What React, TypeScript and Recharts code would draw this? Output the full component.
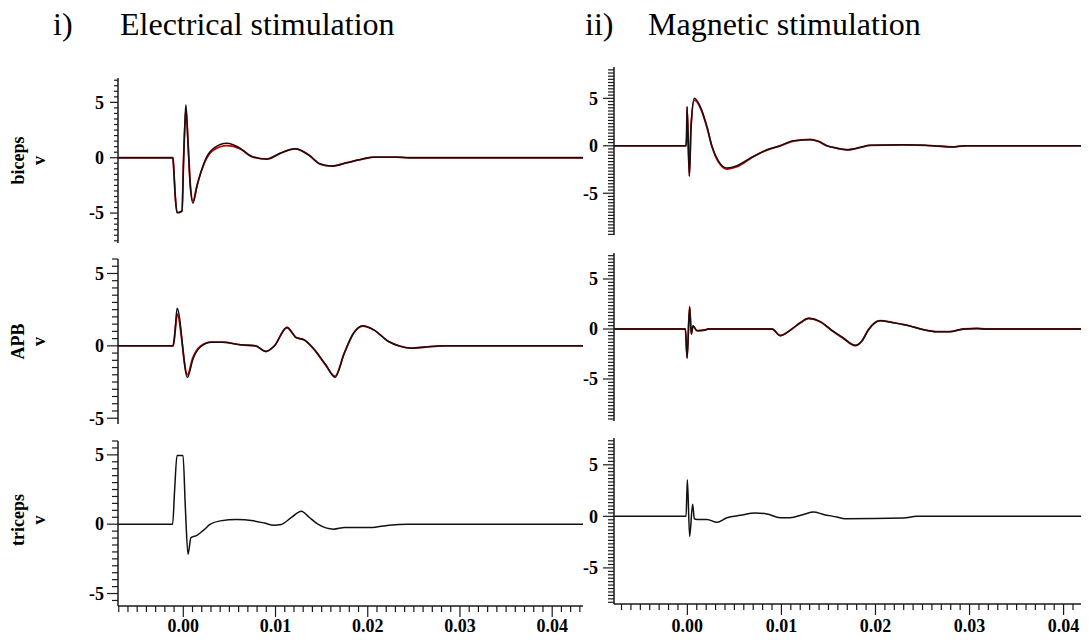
import { Line, LineChart, XAxis, YAxis } from 'recharts'

// time in seconds, amplitude in volts
const bicepsElecTime = [-0.00708, -0.00112, -0.00105, -0.00087, -0.00068, -0.00051, -0.00014, 0.00003, 0.00022, 0.00029, 0.00051, 0.00076, 0.00105, 0.00148, 0.00184, 0.00238, 0.00328, 0.00473, 0.00618, 0.00744, 0.00907, 0.0105, 0.01213, 0.0136, 0.01484, 0.01611, 0.01774, 0.01954, 0.0206, 0.0232, 0.0245, 0.04334]
const bicepsElecBlack = [0, 0, -0.8, -3.5, -4.95, -4.95, -4.8, -0.2, 4.0, 4.76, 1.3, -2.6, -4.1, -2.6, -1.5, -0.2, 0.85, 1.3, 0.85, 0.1, -0.12, 0.4, 0.8, 0.25, -0.57, -0.75, -0.45, -0.1, 0.05, 0.05, 0, 0]
const bicepsElecRed = [0, 0, -0.8, -3.5, -4.95, -4.95, -4.8, -0.2, 3.6, 4.3, 1.5, -2.4, -3.9, -2.5, -1.5, -0.3, 0.7, 1.1, 0.8, 0.1, -0.12, 0.4, 0.8, 0.25, -0.57, -0.75, -0.45, -0.1, 0.05, 0.05, 0, 0]

const apbElecTime = [-0.00708, -0.00112, -0.00098, -0.00085, -0.00067, 0.00045, 0.00102, 0.00182, 0.00302, 0.00422, 0.00623, 0.00783, 0.00895, 0.00984, 0.01124, 0.01224, 0.01312, 0.01425, 0.01545, 0.01645, 0.01746, 0.01845, 0.01946, 0.02066, 0.02226, 0.02347, 0.02467, 0.02627, 0.02828, 0.04334]
const apbElecBlack = [0, 0, 0.5, 1.4, 2.6, -2.18, -0.97, -0.1, 0.25, 0.25, 0.07, 0, -0.39, -0.03, 1.29, 0.57, 0.41, -0.28, -1.31, -2.18, -0.5, 0.87, 1.38, 1.1, 0.3, -0.02, -0.16, -0.08, 0, 0]
const apbElecRed = [0, 0, 0.4, 1.2, 2.2, -2.0, -0.85, -0.05, 0.25, 0.25, 0.07, 0, -0.39, -0.03, 1.25, 0.57, 0.41, -0.3, -1.35, -2.1, -0.5, 0.85, 1.36, 1.1, 0.3, -0.02, -0.16, -0.08, 0, 0]

const tricepsElecTime = [-0.00708, -0.00116, -0.00094, -0.00068, -0.00003, 0.00022, 0.00051, 0.00083, 0.00148, 0.0022, 0.00293, 0.004, 0.0058, 0.0076, 0.0088, 0.0098, 0.0106, 0.0118, 0.0128, 0.0136, 0.0146, 0.0163, 0.0175, 0.0203, 0.0223, 0.0243, 0.04334]
const tricepsElecBlack = [0, 0, 2.46, 4.95, 4.95, 1.25, -2.17, -0.97, -0.8, -0.43, 0, 0.24, 0.34, 0.24, 0.08, -0.07, -0.02, 0.53, 0.94, 0.53, 0, -0.36, -0.24, -0.24, -0.07, 0, 0]

const bicepsMagTime = [-0.0078, -0.00014, -0.00008, -0.00003, 0.00021, 0.00039, 0.00074, 0.00138, 0.00209, 0.00262, 0.00333, 0.00421, 0.00528, 0.00669, 0.00846, 0.00987, 0.01128, 0.01306, 0.01394, 0.01483, 0.01589, 0.01695, 0.01837, 0.01943, 0.023, 0.0253, 0.0262, 0.0282, 0.0295, 0.0427]
const bicepsMagBlack = [0, 0, 1.0, 4.1, -3.2, 2.0, 5.0, 4.1, 2.0, -0.07, -1.65, -2.35, -2.1, -1.3, -0.42, 0, 0.53, 0.63, 0.46, 0, -0.25, -0.42, -0.18, 0.05, 0.1, 0.05, 0, -0.12, 0, 0]
const bicepsMagRed = [0, 0, 1.0, 4.1, -3.2, 2.0, 4.8, 4.0, 1.9, -0.1, -1.75, -2.45, -2.2, -1.35, -0.45, 0, 0.5, 0.68, 0.46, 0, -0.25, -0.42, -0.18, 0.05, 0.1, 0.05, 0, -0.12, 0, 0]

const apbMagTime = [-0.0078, -0.00021, -0.00003, 0.00024, 0.00042, 0.0006, 0.00103, 0.0019, 0.0022, 0.009, 0.00987, 0.01111, 0.012, 0.01288, 0.01412, 0.01536, 0.01659, 0.01783, 0.01855, 0.01925, 0.02049, 0.0219, 0.02367, 0.02509, 0.02651, 0.02792, 0.02933, 0.03075, 0.0318, 0.0427]
const apbMagBlack = [0, 0, -2.9, 2.23, -0.5, 0.3, -0.17, -0.1, 0, 0, -0.67, 0, 0.63, 1.07, 0.73, -0.13, -0.9, -1.67, -1.23, -0.07, 0.83, 0.63, 0.3, -0.07, -0.27, -0.27, 0, 0.05, 0, 0]
const apbMagRed = [0, 0, -2.9, 2.23, -0.5, 0.3, -0.17, -0.1, 0, 0, -0.65, 0, 0.6, 1.05, 0.73, -0.15, -0.95, -1.62, -1.2, -0.07, 0.83, 0.63, 0.3, -0.07, -0.27, -0.27, 0, 0.05, 0, 0]

const tricepsMagTime = [-0.0078, -0.00014, 0, 0.00024, 0.00056, 0.00074, 0.00103, 0.00209, 0.00315, 0.00421, 0.00563, 0.00722, 0.00846, 0.00987, 0.01093, 0.01235, 0.01341, 0.01447, 0.01589, 0.01677, 0.02296, 0.02438, 0.0427]
const tricepsMagBlack = [0, 0, 3.56, -1.94, 1.17, -0.23, -0.3, -0.3, -0.58, -0.13, 0.1, 0.32, 0.23, -0.13, -0.13, 0.19, 0.42, 0.19, -0.06, -0.23, -0.16, 0, 0]

const xMajorTicks = [0, 0.01, 0.02, 0.03, 0.04]
const yMajorTicks = [-5, 0, 5]

const FONT = '"Liberation Serif", "Times New Roman", serif'
const AXIS = '#1a1a1a'
const PAD = 14

function steps(lo: number, hi: number, step: number) {
  const out: number[] = []
  for (let k = Math.ceil(lo / step - 1e-9); k * step <= hi + 1e-9; k++) out.push(+(k * step).toFixed(6))
  return out
}

function rows(time: number[], black: number[], red?: number[]) {
  return time.map((t, i) => ({ t, black: black[i], red: red ? red[i] : null }))
}

const isMajor = (list: number[], v: number) => list.some((m) => Math.abs(m - v) < 1e-7)

function YTick({ x, y, payload, majorLen, minorLen, gap }: any) {
  const v = payload.value
  const major = isMajor(yMajorTicks, v)
  const len = major ? majorLen : minorLen
  return (
    <g>
      <line x1={x - len} y1={y} x2={x} y2={y} stroke={AXIS} strokeWidth={1.2} />
      {major && (
        <text x={x - gap} y={y} dy="0.35em" textAnchor="end" fontFamily={FONT} fontWeight="bold" fontSize={18} fill="#000">
          {String(v)}
        </text>
      )}
    </g>
  )
}

function XTick({ x, y, payload, labelDy }: any) {
  const v = payload.value
  const major = isMajor(xMajorTicks, v)
  return (
    <g>
      <line x1={x} y1={y} x2={x} y2={y + (major ? 11 : 6)} stroke={AXIS} strokeWidth={1.2} />
      {major && (
        <text x={x} y={y + labelDy} textAnchor="middle" fontFamily={FONT} fontWeight="bold" fontSize={18} fill="#000">
          {v.toFixed(2)}
        </text>
      )}
    </g>
  )
}

interface PanelProps {
  data: { t: number; black: number; red: number | null }[]
  left: number
  top: number
  width: number
  height: number
  yAxisWidth: number
  marginRight: number
  xDomain: [number, number]
  yDomain: [number, number]
  yStep: number
  majorLen: number
  minorLen: number
  gap: number
  showX?: boolean
  xHeight?: number
  labelDy?: number
  hasRed?: boolean
}

// top / height are the plot box; the chart gets some room above and below for tick labels
function Panel(p: PanelProps) {
  const xTicks = steps(p.xDomain[0], p.xDomain[1], 0.001)
  const yTicks = steps(p.yDomain[0], p.yDomain[1], p.yStep)
  const xh = p.showX ? p.xHeight ?? 34 : 0
  const bottom = p.showX ? 0 : PAD
  return (
    <div style={{ position: 'absolute', left: p.left, top: p.top - PAD }}>
      <LineChart
        width={p.width}
        height={p.height + PAD + bottom + xh}
        data={p.data}
        margin={{ top: PAD, right: p.marginRight, bottom, left: 0 }}
      >
        <XAxis
          type="number"
          dataKey="t"
          domain={p.xDomain}
          allowDataOverflow
          hide={!p.showX}
          height={xh}
          ticks={xTicks}
          interval={0}
          tickSize={0}
          tickMargin={0}
          tickLine={false}
          axisLine={{ stroke: AXIS, strokeWidth: 1.5 }}
          tick={(t: any) => <XTick {...t} labelDy={p.labelDy} />}
        />
        <YAxis
          type="number"
          domain={p.yDomain}
          allowDataOverflow
          width={p.yAxisWidth}
          ticks={yTicks}
          interval={0}
          tickSize={0}
          tickMargin={0}
          tickLine={false}
          axisLine={{ stroke: AXIS, strokeWidth: 1.5 }}
          tick={(t: any) => <YTick {...t} majorLen={p.majorLen} minorLen={p.minorLen} gap={p.gap} />}
        />
        {p.hasRed && (
          <Line type="monotone" dataKey="red" stroke="#d40000" strokeWidth={1.8} dot={false} isAnimationActive={false} />
        )}
        <Line type="monotone" dataKey="black" stroke="#111" strokeWidth={1.5} dot={false} isAnimationActive={false} />
      </LineChart>
    </div>
  )
}

function RotLabel({ x, y, lines }: { x: number; y: number; lines: string[] }) {
  return (
    <g>
      {lines.map((s, i) => (
        <text
          key={s}
          transform={`translate(${x + i * 21},${y}) rotate(-90)`}
          textAnchor="middle"
          fontFamily={FONT}
          fontWeight="bold"
          fontSize={18}
          fill="#000"
        >
          {s}
        </text>
      ))}
    </g>
  )
}

const leftX: [number, number] = [-0.00708, 0.04334]
const rightX: [number, number] = [-0.0078, 0.0427]

export default function App() {
  const leftCommon = { left: 0, width: 590, yAxisWidth: 118, marginRight: 7, xDomain: leftX, yStep: 0.5, gap: 14 }
  const rightCommon = { left: 544, width: 545, yAxisWidth: 70, marginRight: 0, xDomain: rightX, yStep: 1 / 3, gap: 16, majorLen: 11, minorLen: 6 }
  return (
    <div style={{ position: 'relative', margin: -8, width: 1089, height: 640, overflow: 'hidden', background: '#fff' }}>
      <Panel {...leftCommon} data={rows(bicepsElecTime, bicepsElecBlack, bicepsElecRed)} top={78} height={165} yDomain={[-7.7, 7.2]} majorLen={8} minorLen={4} hasRed />
      <Panel {...leftCommon} data={rows(apbElecTime, apbElecBlack, apbElecRed)} top={259} height={165} yDomain={[-5.4, 6.0]} majorLen={11} minorLen={6} hasRed />
      <Panel {...leftCommon} data={rows(tricepsElecTime, tricepsElecBlack)} top={441} height={165} yDomain={[-5.9, 6.0]} majorLen={11} minorLen={6} showX xHeight={34} labelDy={26} />

      <Panel {...rightCommon} data={rows(bicepsMagTime, bicepsMagBlack, bicepsMagRed)} top={67} height={168} yDomain={[-9.4, 8.3]} hasRed />
      <Panel {...rightCommon} data={rows(apbMagTime, apbMagBlack, apbMagRed)} top={253} height={168} yDomain={[-9.2, 7.6]} hasRed />
      <Panel {...rightCommon} data={rows(tricepsMagTime, tricepsMagBlack)} top={438} height={166} yDomain={[-8.5, 7.6]} showX xHeight={36} labelDy={28} />

      <svg width={1089} height={640} style={{ position: 'absolute', left: 0, top: 0, pointerEvents: 'none' }}>
        <text x={53} y={35} fontFamily={FONT} fontSize={32} fill="#000">i)</text>
        <text x={120} y={35} fontFamily={FONT} fontSize={32} fill="#000">Electrical stimulation</text>
        <text x={585} y={35} fontFamily={FONT} fontSize={32} fill="#000">ii)</text>
        <text x={648} y={35} fontFamily={FONT} fontSize={32} fill="#000">Magnetic stimulation</text>
        <RotLabel x={24} y={160.5} lines={['biceps', 'v']} />
        <RotLabel x={24} y={341.5} lines={['APB', 'v']} />
        <RotLabel x={24} y={520} lines={['triceps', 'v']} />
      </svg>
    </div>
  )
}
